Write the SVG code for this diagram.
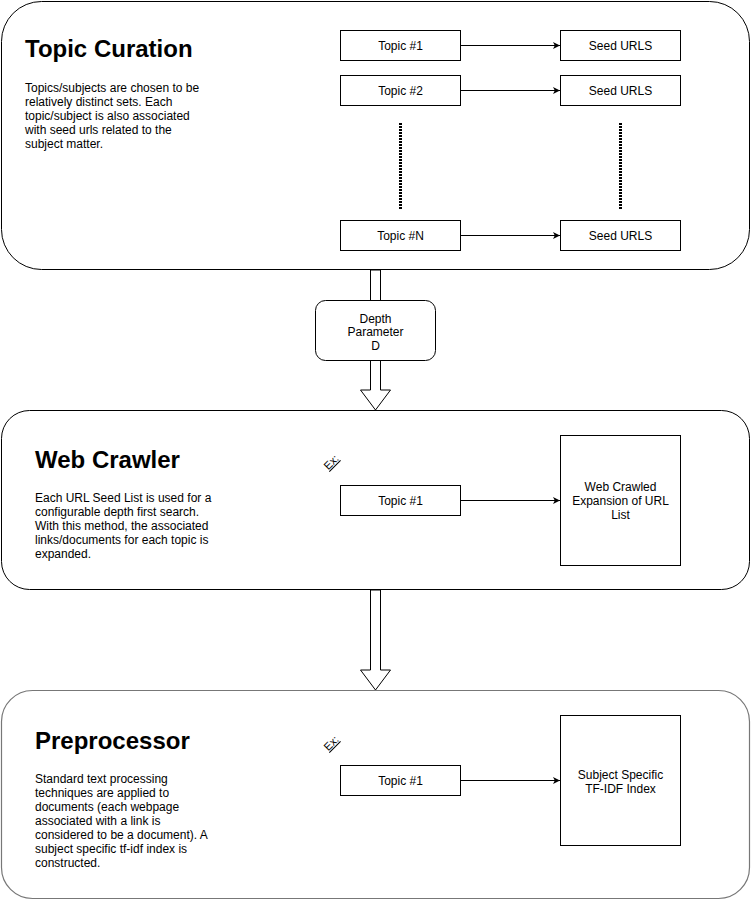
<svg xmlns="http://www.w3.org/2000/svg" width="751" height="901" viewBox="0 0 751 901">
<defs>
<marker id="arr" markerWidth="8" markerHeight="8" refX="7" refY="3.5" orient="auto" markerUnits="userSpaceOnUse">
<path d="M0,0 L7,3.5 L0,7 L1.8,3.5 z" fill="#000"/>
</marker>
<style>
.sec{fill:#fff;stroke:#000;stroke-width:1}
.box{fill:#fff;stroke:#000;stroke-width:1}
.h{font-family:"Liberation Sans",Arial,sans-serif;font-size:24px;font-weight:bold;fill:#000}
.b{font-family:"Liberation Sans",Arial,sans-serif;font-size:12px;fill:#000}
.c{font-family:"Liberation Sans",Arial,sans-serif;font-size:12px;fill:#000;text-anchor:middle}
.ex{font-family:"Liberation Sans",Arial,sans-serif;font-size:11px;fill:#000;text-anchor:middle;text-decoration:underline}
.ln{fill:none;stroke:#000;stroke-width:1;marker-end:url(#arr)}
.dot{fill:none;stroke:#000;stroke-width:3;stroke-dasharray:2 1}
.big{fill:#fff;stroke:#000;stroke-width:1}
</style>
</defs>
<rect width="751" height="901" fill="#fff"/>

<g id="topic-curation">
<rect class="sec" x="1.5" y="1.5" width="748" height="268" rx="40" ry="40"/>
<text class="h" x="25" y="57">Topic Curation</text>
<text class="b" x="25" y="92">Topics/subjects are chosen to be</text>
<text class="b" x="25" y="106">relatively distinct sets. Each</text>
<text class="b" x="25" y="120">topic/subject is also associated</text>
<text class="b" x="25" y="134">with seed urls related to the</text>
<text class="b" x="25" y="148">subject matter.</text>
</g>

<g id="hollow-arrows">
<polygon class="big" points="370.5,270 380.5,270 380.5,390 390.5,390 375.5,410 360.5,390 370.5,390"/>
<polygon class="big" points="370.5,590 380.5,590 380.5,670 390.5,670 375.5,690 360.5,670 370.5,670"/>
</g>

<g id="web-crawler">
<rect class="sec" x="1.5" y="410.5" width="748" height="179" rx="28" ry="28"/>
<text class="h" x="35" y="468">Web Crawler</text>
<text class="b" x="35" y="502">Each URL Seed List is used for a</text>
<text class="b" x="35" y="516">configurable depth first search.</text>
<text class="b" x="35" y="530">With this method, the associated</text>
<text class="b" x="35" y="544">links/documents for each topic is</text>
<text class="b" x="35" y="558">expanded.</text>
<text class="ex" transform="translate(331,462) rotate(-45)" x="0" y="4">Ex:</text>
</g>

<g id="preprocessor">
<rect x="1.5" y="690.5" width="748" height="208" rx="31" ry="31" fill="#fff" stroke="#777" stroke-width="1.2"/>
<text class="h" x="35" y="749">Preprocessor</text>
<text class="b" x="35" y="783">Standard text processing</text>
<text class="b" x="35" y="797">techniques are applied to</text>
<text class="b" x="35" y="811">documents (each webpage</text>
<text class="b" x="35" y="825">associated with a link is</text>
<text class="b" x="35" y="839">considered to be a document). A</text>
<text class="b" x="35" y="853">subject specific tf-idf index is</text>
<text class="b" x="35" y="867">constructed.</text>
<text class="ex" transform="translate(331,743) rotate(-45)" x="0" y="4">Ex:</text>
</g>

<g id="depth-parameter">
<rect class="box" x="315.5" y="300.5" width="120" height="60" rx="10" ry="10"/>
<text class="c" x="375.5" y="323">Depth</text>
<text class="c" x="375.5" y="336">Parameter</text>
<text class="c" x="375.5" y="350">D</text>
</g>

<g id="topic-1">
<rect class="box" x="340.5" y="30.5" width="120" height="30"/>
<text class="c" x="400.5" y="49.5">Topic #1</text>
</g>
<g id="seed-1">
<rect class="box" x="560.5" y="30.5" width="120" height="30"/>
<text class="c" x="620.5" y="49.5">Seed URLS</text>
</g>
<g id="topic-2">
<rect class="box" x="340.5" y="75.5" width="120" height="30"/>
<text class="c" x="400.5" y="94.5">Topic #2</text>
</g>
<g id="seed-2">
<rect class="box" x="560.5" y="75.5" width="120" height="30"/>
<text class="c" x="620.5" y="94.5">Seed URLS</text>
</g>
<g id="topic-n">
<rect class="box" x="340.5" y="220.5" width="120" height="30"/>
<text class="c" x="400.5" y="239.5">Topic #N</text>
</g>
<g id="seed-n">
<rect class="box" x="560.5" y="220.5" width="120" height="30"/>
<text class="c" x="620.5" y="239.5">Seed URLS</text>
</g>

<g id="wc-topic-1">
<rect class="box" x="340.5" y="485.5" width="120" height="30"/>
<text class="c" x="400.5" y="504.5">Topic #1</text>
</g>
<g id="wc-expansion">
<rect class="box" x="560.5" y="435.5" width="120" height="130"/>
<text class="c" x="620.5" y="491">Web Crawled</text>
<text class="c" x="620.5" y="505">Expansion of URL</text>
<text class="c" x="620.5" y="519">List</text>
</g>

<g id="pp-topic-1">
<rect class="box" x="340.5" y="765.5" width="120" height="30"/>
<text class="c" x="400.5" y="784.5">Topic #1</text>
</g>
<g id="pp-index">
<rect class="box" x="560.5" y="715.5" width="120" height="130"/>
<text class="c" x="620.5" y="779">Subject Specific</text>
<text class="c" x="620.5" y="793">TF-IDF Index</text>
</g>

<g id="connectors">
<line class="ln" x1="460.5" y1="45.5" x2="560" y2="45.5"/>
<line class="ln" x1="460.5" y1="90.5" x2="560" y2="90.5"/>
<line class="ln" x1="460.5" y1="235.5" x2="560" y2="235.5"/>
<line class="ln" x1="460.5" y1="500.5" x2="560" y2="500.5"/>
<line class="ln" x1="460.5" y1="780.5" x2="560" y2="780.5"/>
<line class="dot" x1="400.5" y1="123" x2="400.5" y2="210"/>
<line class="dot" x1="620.5" y1="123" x2="620.5" y2="210"/>
</g>
</svg>
